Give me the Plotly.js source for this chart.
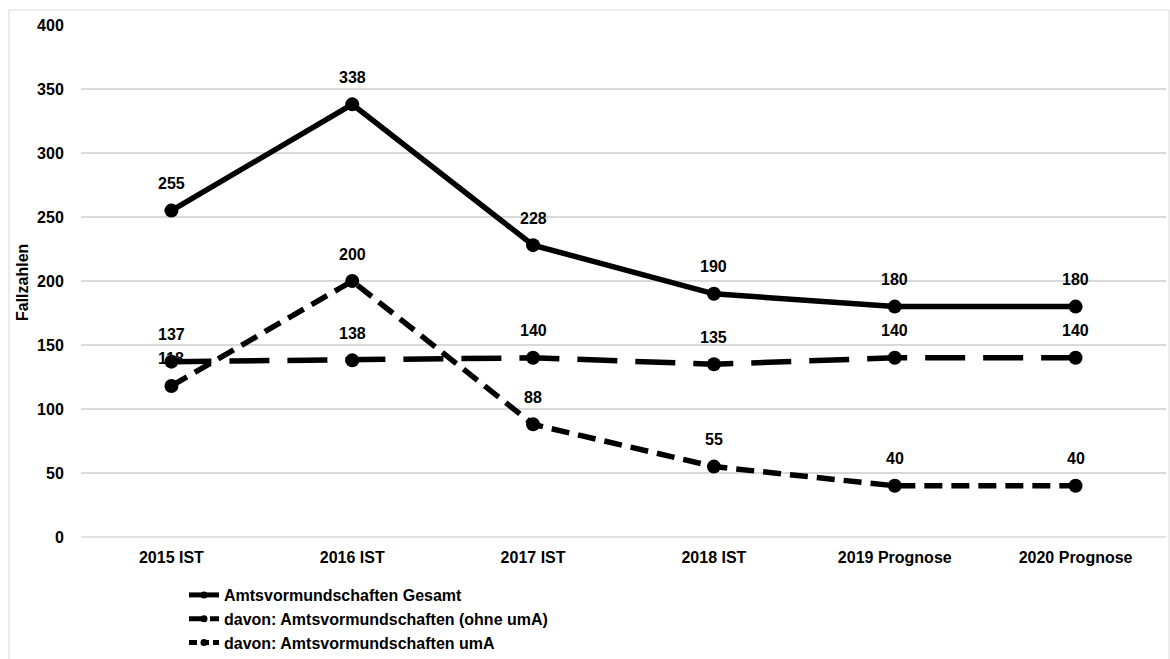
<!DOCTYPE html>
<html>
<head>
<meta charset="utf-8">
<script src="https://cdn.plot.ly/plotly-3.0.1.min.js"></script>
<style>
  html, body { margin: 0; padding: 0; background: #fff; }
  #chart { width: 1170px; height: 659px; }
</style>
</head>
<body>
<div id="chart"></div>
<script>
const categories = ["2015 IST", "2016 IST", "2017 IST", "2018 IST", "2019 Prognose", "2020 Prognose"];
const gesamt = [255, 338, 228, 190, 180, 180];
const ohneUmA = [137, 138, 140, 135, 140, 140];
const umA = [118, 200, 88, 55, 40, 40];
const seriesNames = ["Amtsvormundschaften Gesamt", "davon: Amtsvormundschaften (ohne umA)", "davon: Amtsvormundschaften umA"];
const yTicks = [0, 50, 100, 150, 200, 250, 300, 350, 400];
const yTitle = "Fallzahlen";

const font = { family: "Liberation Sans, Arial, sans-serif", size: 16, color: "#000" };
const boldFont = Object.assign({}, font, { weight: "bold" });
const dashes = ["solid", "40px,18px", "18px,9px"];
const legendDashes = ["solid", "14px,7px", "8px,4px"];
const allSeries = [gesamt, ohneUmA, umA];

const data = [];
allSeries.forEach((vals, k) => {
  data.push({
    type: "scatter",
    mode: "lines+markers",
    x: categories,
    y: vals,
    name: seriesNames[k],
    showlegend: false,
    line: { color: "#000", width: 5.5, dash: dashes[k] },
    marker: { color: "#000", size: 14, symbol: "circle" },
    cliponaxis: false
  });
});
// legend entries (smaller markers as in the original legend)
allSeries.forEach((vals, k) => {
  data.push({
    type: "scatter",
    mode: "lines+markers",
    x: [null], y: [null],
    name: seriesNames[k],
    showlegend: true,
    line: { color: "#000", width: 5, dash: legendDashes[k] },
    marker: { color: "#000", size: 7, symbol: "circle" }
  });
});

const W = 1170, H = 659;
const plotL = 81, plotR = 1166, plotT = 25, plotB = 537;
const pw = plotR - plotL, ph = plotB - plotT;
function px(x) { return (x - plotL) / pw; }
function py(y) { return (plotB - y) / ph; }

const annotations = [];
allSeries.forEach(vals => {
  vals.forEach((v, i) => {
    annotations.push({
      x: categories[i], y: v, xref: "x", yref: "y",
      text: "<b>" + v + "</b>", showarrow: false,
      yshift: 27, font: font
    });
  });
});
// y-axis title
annotations.push({
  xref: "paper", yref: "paper", x: px(22), y: py(283),
  xanchor: "center", yanchor: "middle", textangle: -90,
  text: "<b>" + yTitle + "</b>", showarrow: false, font: font
});

const layout = {
  width: W, height: H,
  margin: { l: plotL, r: W - plotR, t: plotT, b: H - plotB, autoexpand: false },
  paper_bgcolor: "#fff", plot_bgcolor: "#fff",
  font: font,
  showlegend: true,
  legend: {
    orientation: "v",
    xref: "container", yref: "container",
    x: 184 / W, y: 1 - 578 / H, xanchor: "left", yanchor: "top",
    font: boldFont,
    tracegroupgap: 0,
    bgcolor: "rgba(0,0,0,0)"
  },
  xaxis: {
    type: "category",
    tickvals: categories,
    ticktext: categories.map(c => "<b>" + c + "</b>"),
    tickfont: font,
    showgrid: false, zeroline: false, showline: false,
    ticks: "outside", ticklen: 6, tickcolor: "rgba(0,0,0,0)",
    range: [-0.5, categories.length - 0.5],
    automargin: false,
    fixedrange: true
  },
  yaxis: {
    range: [0, 400],
    tickvals: yTicks,
    ticktext: yTicks.map(t => "<b>" + t + "</b>"),
    tickfont: font,
    showgrid: true, gridcolor: "#d9d9d9", gridwidth: 1.5,
    zeroline: false, showline: false,
    ticks: "outside", ticklen: 13, tickcolor: "rgba(0,0,0,0)",
    automargin: false,
    fixedrange: true
  },
  annotations: annotations,
  shapes: [
    {
      type: "line", xref: "paper", yref: "paper",
      x0: 0, x1: 1, y0: 0, y1: 0,
      line: { color: "#d9d9d9", width: 1.5 }, layer: "below"
    },
    {
      type: "rect", xref: "paper", yref: "paper",
      x0: px(9), x1: px(1169), y0: py(10), y1: py(700),
      line: { color: "#d9d9d9", width: 1 }, fillcolor: "rgba(0,0,0,0)", layer: "below"
    }
  ]
};

Plotly.newPlot("chart", data, layout, { staticPlot: true, displayModeBar: false });
</script>
</body>
</html>
